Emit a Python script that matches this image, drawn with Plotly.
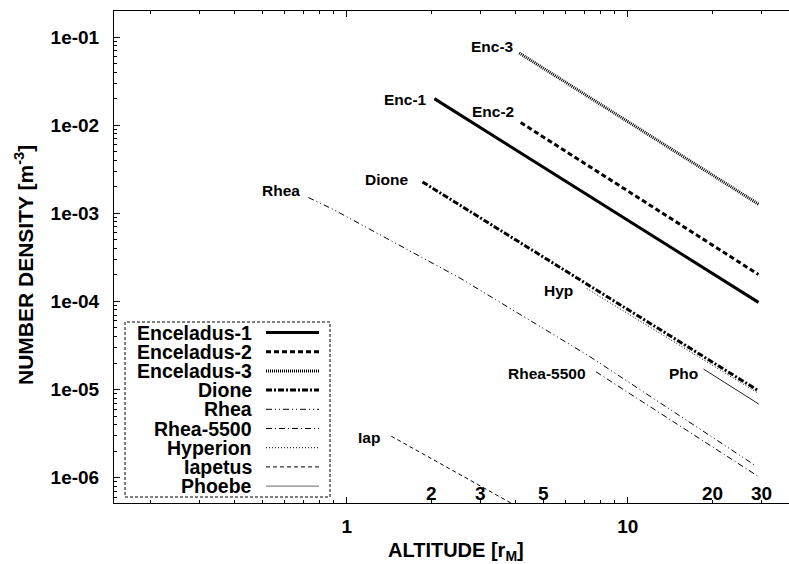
import math
import plotly.graph_objects as go

# ---------------- data ----------------
series_names = ["Enceladus-1", "Enceladus-2", "Enceladus-3", "Dione", "Rhea",
                "Rhea-5500", "Hyperion", "Iapetus", "Phoebe"]
short_labels = ["Enc-1", "Enc-2", "Enc-3", "Dione", "Rhea",
                "Rhea-5500", "Hyp", "Iap", "Pho"]

enc1_x = [2.05, 29.2]
enc1_y = [2.0e-2, 9.75e-5]
enc2_x = [4.16, 29.2]
enc2_y = [1.07e-2, 2.02e-4]
enc3_x = [4.11, 29.2]
enc3_y = [6.59e-2, 1.27e-3]
dione_x = [1.86, 29.2]
dione_y = [2.27e-3, 9.7e-6]
rhea_x = [0.73, 0.884, 2.53, 7.34, 28.5]
rhea_y = [1.51e-3, 1.13e-3, 1.84e-4, 2.36e-5, 1.37e-6]
rhea5500_x = [7.71, 29.2]
rhea5500_y = [1.59e-5, 1.03e-6]
hyp_x = [7.15, 29.2]
hyp_y = [1.40e-4, 9.06e-6]
iap_x = [1.44, 4.0]
iap_y = [2.96e-6, 4.8e-7]
pho_x = [18.6, 29.3]
pho_y = [1.71e-5, 6.84e-6]

xs = [enc1_x, enc2_x, enc3_x, dione_x, rhea_x, rhea5500_x, hyp_x, iap_x, pho_x]
ys = [enc1_y, enc2_y, enc3_y, dione_y, rhea_y, rhea5500_y, hyp_y, iap_y, pho_y]

x_major = [1, 10]
x_minor = [0.2, 0.3, 0.4, 0.5, 0.6, 0.7, 0.8, 0.9,
           2, 3, 4, 5, 6, 7, 8, 9, 20, 30]
x_inner_labels = [2, 3, 5, 20, 30]
y_major = [1e-6, 1e-5, 1e-4, 1e-3, 1e-2, 1e-1]
y_major_text = ["1e-06", "1e-05", "1e-04", "1e-03", "1e-02", "1e-01"]
y_minor = [m * 10.0 ** e for e in range(-7, 0) for m in range(2, 10)]

# ---------------- styles ----------------
styles = [
    dict(width=3, dash="solid"),
    dict(width=3, dash="5px,3px"),
    dict(width=3, dash="1px,1px"),
    dict(width=3, dash="6px,2px,2px,2px"),
    dict(width=1, dash="6px,3px,1px,3px,1px,3px"),
    dict(width=1, dash="6px,3px,1px,3px"),
    dict(width=1, dash="1px,2px"),
    dict(width=1, dash="4px,3px"),
    dict(width=1, dash="solid"),
]
colors = ["black"] * 8 + ["#222222"]
legend_colors = ["black"] * 8 + ["#666666"]
label_shift = [(-5, -1), (-5, 11), (-3, 6), (-12, 2), (-6, 7),
               (-8, -2), (-12, -2), (-9, -1), (-3, -4)]

FONT = "Liberation Sans, Arial, Helvetica, sans-serif"
W, H = 789, 564
ML, MR, MT, MB = 114, 0, 11, 61
PW, PH = W - ML - MR, H - MT - MB


def px2paper_x(px):
    return (px - ML) / PW


def px2paper_y(py):
    return (H - MB - py) / PH


fig = go.Figure()
for i, name in enumerate(series_names):
    fig.add_trace(go.Scatter(
        x=xs[i], y=ys[i], mode="lines", name=name, showlegend=False,
        line=dict(color=colors[i], width=styles[i]["width"], dash=styles[i]["dash"]),
    ))

annotations = []
# curve labels anchored at first point of each series
for i, lab in enumerate(short_labels):
    annotations.append(dict(
        x=math.log10(xs[i][0]), y=math.log10(ys[i][0]), xref="x", yref="y",
        text=lab, showarrow=False, xanchor="right", yanchor="middle",
        xshift=label_shift[i][0], yshift=label_shift[i][1],
        font=dict(family=FONT, size=15.5, color="black", weight="bold"),
    ))

# minor tick labels drawn inside the plot, just above the x axis
for v in x_inner_labels:
    annotations.append(dict(
        x=math.log10(v), y=0, xref="x", yref="paper", text=str(v),
        showarrow=False, xanchor="center", yanchor="middle", yshift=10,
        font=dict(family=FONT, size=19, color="black", weight="bold"),
    ))

# axis titles
annotations.append(dict(
    x=0.5, y=0, xref="paper", yref="paper", text="ALTITUDE [r<sub>M</sub>]",
    showarrow=False, xanchor="center", yanchor="middle", xshift=4, yshift=-48,
    font=dict(family=FONT, size=20, color="black", weight="bold"),
))
annotations.append(dict(
    x=0, y=0.5, xref="paper", yref="paper", text="NUMBER DENSITY [m<sup>-3</sup>]",
    showarrow=False, xanchor="center", yanchor="middle", xshift=-90, yshift=-8,
    textangle=-90,
    font=dict(family=FONT, size=21, color="black", weight="bold"),
))

# legend (gnuplot style: right aligned text, sample line to the right)
shapes = []
LEG_X0, LEG_X1, LEG_Y0, LEG_Y1 = 125, 330, 322, 497
ROW0, ROWSTEP = 332.5, 19.2
TEXT_RIGHT, SAMPLE_X0, SAMPLE_X1 = 254, 266, 319
shapes.append(dict(
    type="rect", xref="paper", yref="paper",
    x0=px2paper_x(LEG_X0), x1=px2paper_x(LEG_X1),
    y0=px2paper_y(LEG_Y1), y1=px2paper_y(LEG_Y0),
    line=dict(color="black", width=1, dash="3px,2px"), fillcolor="rgba(0,0,0,0)",
))
for i, name in enumerate(series_names):
    yy = px2paper_y(ROW0 + ROWSTEP * i)
    annotations.append(dict(
        x=px2paper_x(TEXT_RIGHT), y=yy, xref="paper", yref="paper", text=name,
        showarrow=False, xanchor="right", yanchor="middle",
        font=dict(family=FONT, size=19.5, color="black", weight="bold"),
    ))
    shapes.append(dict(
        type="line", xref="paper", yref="paper",
        x0=px2paper_x(SAMPLE_X0), x1=px2paper_x(SAMPLE_X1), y0=yy, y1=yy,
        line=dict(color=legend_colors[i], width=styles[i]["width"], dash=styles[i]["dash"]),
    ))

fig.update_layout(
    width=W, height=H, margin=dict(l=ML, r=MR, t=MT, b=MB, pad=0),
    paper_bgcolor="white", plot_bgcolor="white",
    font=dict(family=FONT, size=19, color="black", weight="bold"),
    showlegend=False,
    annotations=annotations, shapes=shapes,
    xaxis=dict(
        type="log", range=[math.log10(0.1485), math.log10(37.5)],
        showgrid=False, zeroline=False, showline=True, linecolor="black", linewidth=1,
        mirror="ticks", ticks="inside", ticklen=6, tickwidth=1, tickcolor="black",
        tickvals=x_major, ticktext=[str(v) for v in x_major],
        tickfont=dict(family=FONT, size=19, color="black", weight="bold"),
        ticklabelstandoff=6,
        minor=dict(tickvals=x_minor, ticks="inside", ticklen=3, tickwidth=1,
                   tickcolor="black", showgrid=False),
    ),
    yaxis=dict(
        type="log", range=[-6.287, -0.705],
        showgrid=False, zeroline=False, showline=True, linecolor="black", linewidth=1,
        ticks="inside", ticklen=6, tickwidth=1, tickcolor="black",
        tickvals=y_major, ticktext=y_major_text,
        tickfont=dict(family=FONT, size=19, color="black", weight="bold"),
        ticklabelstandoff=10,
        minor=dict(tickvals=y_minor, ticks="inside", ticklen=3, tickwidth=1,
                   tickcolor="black", showgrid=False),
    ),
)

fig.write_html("out.html")
